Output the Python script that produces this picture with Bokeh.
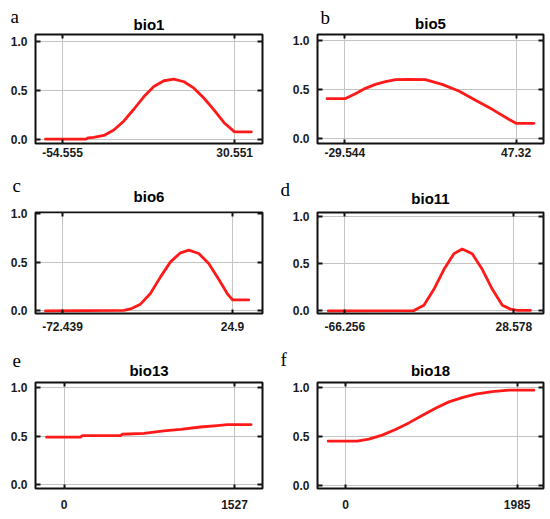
from bokeh.plotting import figure
from bokeh.models import (FixedTicker, LinearAxis, Range1d, Title,
                          CustomJSTickFormatter)
from bokeh.layouts import column, row
from bokeh.embed import file_html
from bokeh.resources import INLINE

# ---------------- data ----------------
letters = ["a", "b", "c", "d", "e", "f"]
titles = ["bio1", "bio5", "bio6", "bio11", "bio13", "bio18"]

x_ticks = [[-54.555, 30.551], [-29.544, 47.32], [-72.439, 24.9],
           [-66.256, 28.578], [0, 1527], [0, 1985]]
x_tick_labels = [["-54.555", "30.551"], ["-29.544", "47.32"], ["-72.439", "24.9"],
                 ["-66.256", "28.578"], ["0", "1527"], ["0", "1985"]]
y_ticks = [0.0, 0.5, 1.0]
y_tick_labels = ["0.0", "0.5", "1.0"]

bio1_x = [-63.0, -43.0, -42.0, -39.1, -34.1, -29.2, -24.2, -19.3, -14.3, -9.4,
          -4.4, 0.5, 5.5, 10.4, 15.4, 20.3, 25.3, 30.2, 30.6, 38.8]
bio1_y = [0.0, 0.0, 0.012, 0.017, 0.038, 0.093, 0.186, 0.306, 0.436, 0.539,
          0.598, 0.615, 0.588, 0.522, 0.419, 0.299, 0.168, 0.079, 0.075, 0.075]

bio5_x = [-37.5, -29.5, -24.8, -20.3, -15.8, -11.3, -6.8, -0.8, 6.6, 14.1,
          21.6, 29.1, 36.6, 44.0, 47.3, 55.3]
bio5_y = [0.405, 0.405, 0.456, 0.51, 0.55, 0.578, 0.598, 0.60, 0.598, 0.55,
          0.483, 0.39, 0.297, 0.196, 0.155, 0.155]

bio6_x = [-82.2, -37.3, -33.5, -27.8, -22.1, -16.3, -10.6, -4.9, -0.1, 5.6,
          11.3, 17.1, 21.9, 24.7, 24.9, 34.2]
bio6_y = [0.0, 0.005, 0.02, 0.069, 0.178, 0.349, 0.503, 0.596, 0.623, 0.589,
          0.487, 0.322, 0.178, 0.117, 0.113, 0.113]

bio11_x = [-75.6, -27.5, -21.9, -16.3, -10.7, -5.1, -0.4, 5.2, 10.9, 16.5,
           22.1, 26.7, 30.5, 37.9]
bio11_y = [0.0, 0.003, 0.06, 0.227, 0.436, 0.603, 0.652, 0.603, 0.436, 0.227,
           0.06, 0.018, 0.005, 0.005]

bio13_x = [-158, 146, 161, 505, 520, 714, 893, 1043, 1222, 1372, 1461, 1527, 1676]
bio13_y = [0.49, 0.49, 0.505, 0.505, 0.52, 0.53, 0.555, 0.57, 0.595, 0.61,
           0.62, 0.62, 0.62]

bio18_x = [-200, 135, 270, 424, 578, 732, 886, 1041, 1195, 1349, 1503, 1696,
           1889, 1985, 2178]
bio18_y = [0.452, 0.452, 0.473, 0.514, 0.572, 0.64, 0.716, 0.79, 0.856, 0.90,
           0.935, 0.962, 0.976, 0.976, 0.976]

series_x = [bio1_x, bio5_x, bio6_x, bio11_x, bio13_x, bio18_x]
series_y = [bio1_y, bio5_y, bio6_y, bio11_y, bio13_y, bio18_y]

# ---------------- layout / style ----------------
x_ranges = [(-67.9, 44.3), (-41.8, 59.6), (-87.9, 42.1),
            (-81.6, 45.2), (-257.3, 1778), (-323.7, 2289)]
y_ranges = [(-0.045, 1.072), (-0.05, 1.057), (-0.027, 1.01),
            (-0.028, 1.038), (-0.041, 1.055), (-0.034, 1.055)]
row_h = [176, 170, 171]
row_top = [34, 36, 36]
row_bottom = [33, 33, 29]
row_xstand = [4, 8, 11]
# baselines (px from figure top) of panel title and panel letter
title_base = [29.3, 28.3, 24.7, 27.3, 29.0, 29.0]
letter_base = [22.3, 23.3, 15.7, 19.0, 16.7, 19.0]
letter_dx = [-25, 3, -23, -37, -23, -37]

FONT = "Liberation Sans"
DARK = "#111111"
TITLE_FS, LETTER_FS = 15, 19


def make_panel(i):
    col = i % 2
    r = i // 2
    if col == 0:
        w, bl, br = 275, 35, 13
    else:
        w, bl, br = 275, 42, 7
    p = figure(width=w, height=row_h[r], output_backend="svg", title=None,
               toolbar_location=None, tools="",
               x_range=Range1d(*x_ranges[i]), y_range=Range1d(*y_ranges[i]),
               min_border_left=bl, min_border_right=br,
               min_border_top=row_top[r], min_border_bottom=row_bottom[r])
    p.background_fill_color = "white"
    p.border_fill_color = "white"
    p.outline_line_color = DARK
    p.outline_line_width = 2

    xa = p.below[0]
    xa.ticker = FixedTicker(ticks=x_ticks[i])
    xa.formatter = CustomJSTickFormatter(args=dict(labels=x_tick_labels[i]),
                                         code="return labels[index]")
    ya = p.left[0]
    ya.ticker = FixedTicker(ticks=y_ticks)
    ya.formatter = CustomJSTickFormatter(args=dict(labels=y_tick_labels),
                                         code="return labels[index]")
    for ax, tin in ((xa, 4), (ya, 5)):
        ax.axis_line_color = None
        ax.major_tick_in = tin
        ax.major_tick_out = 0
        ax.minor_tick_line_color = None
        ax.major_tick_line_color = DARK
        ax.major_tick_line_width = 2
        ax.major_label_text_font = FONT
        ax.major_label_text_font_style = "bold"
        ax.major_label_text_font_size = "12px"
        ax.major_label_text_color = "#1a1a1a"
    xa.major_label_standoff = row_xstand[r]
    ya.major_label_standoff = 8

    for loc, tk, tin in (("above", x_ticks[i], 4), ("right", y_ticks, 5)):
        ax = LinearAxis(ticker=FixedTicker(ticks=tk),
                        formatter=CustomJSTickFormatter(code="return ''"))
        ax.axis_line_color = None
        ax.major_tick_in = tin
        ax.major_tick_out = 0
        ax.minor_tick_line_color = None
        ax.major_tick_line_color = DARK
        ax.major_tick_line_width = 2
        ax.major_label_text_font_size = "0px"
        ax.major_label_standoff = 0
        p.add_layout(ax, loc)

    # panel title (nearest the frame) and panel letter (stacked above it)
    T = row_top[r]
    s_t = int(round(2 * (T - title_base[i] - 0.21 * TITLE_FS)))
    h_t = 2 + 1.12 * TITLE_FS + s_t
    p.add_layout(Title(text=titles[i], align="center", text_font=FONT,
                       text_font_style="bold",
                       text_font_size="%dpx" % TITLE_FS, text_color="black",
                       standoff=s_t), "above")
    P = T - h_t
    s_l = int(round(2 * (P - letter_base[i] - 0.21 * LETTER_FS)))
    p.add_layout(Title(text=letters[i], align="left", offset=letter_dx[i],
                       text_font="Liberation Serif", text_font_style="normal",
                       text_font_size="%dpx" % LETTER_FS, text_color="black",
                       standoff=s_l), "above")

    p.xgrid.grid_line_color = "#c4c4c4"
    p.ygrid.grid_line_color = "#c4c4c4"
    p.xgrid.grid_line_width = 1
    p.ygrid.grid_line_width = 1

    p.line(series_x[i], series_y[i], line_color="#ff1a1a", line_width=2.8,
           line_join="round", line_cap="round")
    return p


panels = [make_panel(i) for i in range(6)]
layout = column(row(panels[0], panels[1]), row(panels[2], panels[3]),
                row(panels[4], panels[5]))

open("out.html", "w").write(file_html(layout, INLINE))
